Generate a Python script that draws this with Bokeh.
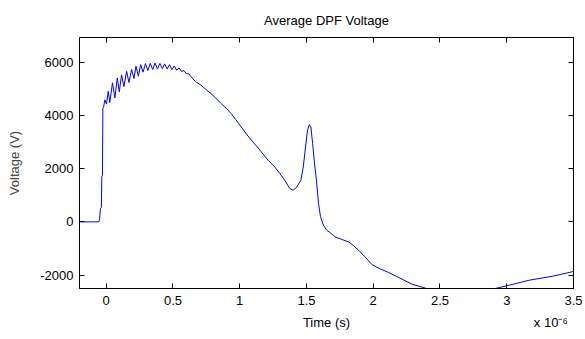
from bokeh.plotting import figure
from bokeh.models import FixedTicker, LinearAxis, CustomJSTickFormatter
from bokeh.embed import file_html
from bokeh.resources import INLINE

# time in microseconds (axis shows x 10^-6 s)
time_us = [-0.2, -0.056, -0.05, -0.043, -0.036, -0.033, -0.028, -0.025, -0.02, -0.01, 0.002,
           0.015, 0.027, 0.047, 0.065, 0.083, 0.098, 0.115, 0.133, 0.153, 0.170, 0.190, 0.208,
           0.223, 0.241, 0.258, 0.276, 0.294, 0.312, 0.330, 0.348, 0.366, 0.384, 0.402, 0.420,
           0.438, 0.456, 0.474, 0.492, 0.510, 0.528, 0.546, 0.564, 0.582, 0.600, 0.618, 0.64,
           0.67, 0.71, 0.75, 0.785, 0.82, 0.861, 0.90, 0.936, 0.97, 1.011, 1.05, 1.087, 1.12,
           1.162, 1.212, 1.262, 1.30, 1.337, 1.375, 1.40, 1.425, 1.458, 1.476, 1.493, 1.508,
           1.521, 1.533, 1.546, 1.563, 1.576, 1.590, 1.605, 1.627, 1.651, 1.676, 1.714, 1.76,
           1.815, 1.85, 1.89, 1.94, 1.99, 2.05, 2.116, 2.216, 2.291, 2.38, 2.45, 2.55, 2.65,
           2.75, 2.85, 2.93, 3.02, 3.17, 3.346, 3.52]
voltage = [0, 0, 80, 510, 540, 1700, 1750, 4270, 4300, 4580, 4420,
           4900, 4480, 5220, 4650, 5400, 4880, 5520, 5080, 5650, 5230, 5720, 5380,
           5840, 5470, 5900, 5620, 5940, 5680, 5950, 5720, 5960, 5740, 5950, 5750,
           5930, 5740, 5900, 5720, 5850, 5690, 5780, 5640, 5680, 5560, 5560, 5420,
           5260, 5129, 4960, 4817, 4650, 4442, 4260, 4067, 3840, 3565, 3300, 3065, 2880,
           2626, 2315, 2064, 1820, 1565, 1253, 1189, 1290, 1565, 2064, 2814, 3440,
           3650, 3565, 2941, 2064, 1500, 700, 200, -124, -311, -400, -563, -650,
           -750, -880, -1062, -1320, -1600, -1760, -1900, -2150, -2340, -2470, -2580, -2650, -2680,
           -2650, -2580, -2480, -2375, -2187, -2037, -1838]

x_ticks = [0, 0.5, 1, 1.5, 2, 2.5, 3, 3.5]
x_tick_labels = ["0", "0.5", "1", "1.5", "2", "2.5", "3", "3.5"]
y_ticks = [-2000, 0, 2000, 4000, 6000]
y_tick_labels = ["-2000", "0", "2000", "4000", "6000"]
x_label = "Time (s)"
x_exponent = "x 10\u207b\u2076"

FONT = "Liberation Sans"
FS = "13px"

p = figure(width=585, height=339, x_range=(-0.2, 3.5), y_range=(-2500, 6920),
           output_backend="svg", toolbar_location=None,
           min_border_left=79, min_border_right=12, min_border_top=37, min_border_bottom=51,
           x_axis_location=None, y_axis_location=None)
p.background_fill_color = "white"
p.border_fill_color = "white"
p.outline_line_color = "black"
p.grid.visible = False

p.line(time_us, voltage, line_color="#0000ff", line_width=1)

def style(ax, ticks, labels=None):
    ax.ticker = FixedTicker(ticks=ticks)
    ax.major_tick_in = 5
    ax.major_tick_out = 0
    ax.minor_tick_line_color = None
    ax.axis_line_color = "black"
    ax.major_tick_line_color = "black"
    ax.major_label_text_font = FONT
    ax.major_label_text_font_size = FS
    ax.major_label_text_color = "black"
    if labels is not None:
        ax.major_label_overrides = {t: l for t, l in zip(ticks, labels)}
    else:
        ax.formatter = CustomJSTickFormatter(code="return ''")
        ax.major_label_text_font_size = "1px"
        ax.major_label_standoff = 0

# bottom axis: ticks + tick labels
xb = LinearAxis()
style(xb, x_ticks, x_tick_labels)
xb.major_label_standoff = 7
p.add_layout(xb, "below")

# second bottom row: axis title and the exponent note
x_center = (p.x_range.start + p.x_range.end) / 2
x_exp_pos = 3.33
xb2 = LinearAxis()
style(xb2, [x_center, x_exp_pos], [x_label, x_exponent])
xb2.axis_line_color = None
xb2.major_tick_line_color = None
xb2.major_tick_in = 0
xb2.major_label_standoff = 7
p.add_layout(xb2, "below")

yl = LinearAxis()
style(yl, y_ticks, y_tick_labels)
yl.major_label_standoff = 6
yl.axis_label = "Voltage (V)"
yl.axis_label_text_font = FONT
yl.axis_label_text_font_size = FS
yl.axis_label_text_font_style = "normal"
yl.axis_label_standoff = 15
p.add_layout(yl, "left")

xt = LinearAxis()
style(xt, x_ticks)
p.add_layout(xt, "above")

yr = LinearAxis()
style(yr, y_ticks)
p.add_layout(yr, "right")

p.title.text = "Average DPF Voltage"
p.title.align = "center"
p.title.text_font = FONT
p.title.text_font_size = FS
p.title.text_font_style = "normal"
p.title.text_color = "black"
p.title.standoff = 20

open("out.html", "w").write(file_html(p, INLINE))
